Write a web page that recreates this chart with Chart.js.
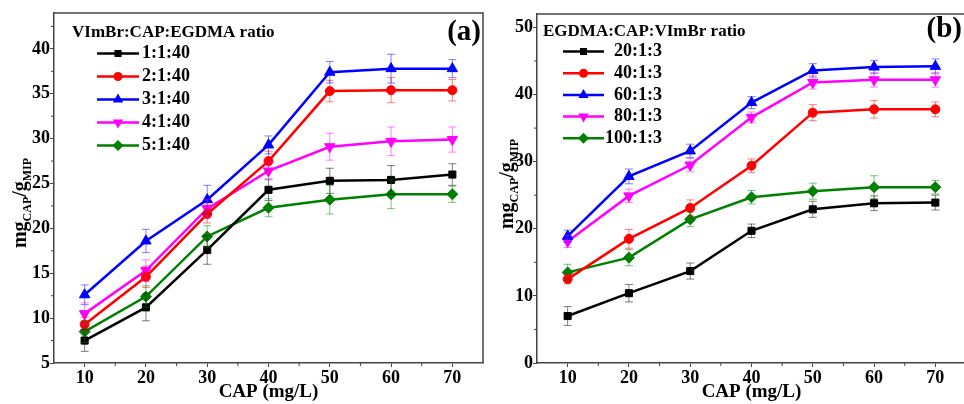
<!DOCTYPE html>
<html>
<head>
<meta charset="utf-8">
<script src="https://cdn.jsdelivr.net/npm/chart.js@4.4.0/dist/chart.umd.min.js"></script>
<style>
html, body {margin:0; padding:0; background:#fff; overflow:hidden; width:964px; height:404px;}
#wrapA {position:absolute; left:0; top:0;}
#wrapB {position:absolute; left:485px; top:0;}
</style>
</head>
<body>
<div id="wrapA"><canvas id="chartA" width="490" height="404"></canvas></div>
<div id="wrapB"><canvas id="chartB" width="490" height="404"></canvas></div>
<script>
// x values, CAP concentration in mg/L
var capConc = [10, 20, 30, 40, 50, 60, 70];
var xTicks = [10, 20, 30, 40, 50, 60, 70];

// panel (a): VImBr:CAP:EGDMA ratio
var yTicksA = [5, 10, 15, 20, 25, 30, 35, 40];
var labelsA = ['1:1:40', '2:1:40', '3:1:40', '4:1:40', '5:1:40'];
var uptakeA1 = [7.5, 11.2, 17.6, 24.3, 25.3, 25.4, 26.0];
var uptakeA2 = [9.3, 14.6, 21.6, 27.5, 35.3, 35.4, 35.4];
var uptakeA3 = [12.6, 18.6, 23.2, 29.3, 37.4, 37.8, 37.8];
var uptakeA4 = [10.5, 15.3, 22.2, 26.4, 29.1, 29.7, 29.9];
var uptakeA5 = [8.5, 12.4, 19.1, 22.3, 23.2, 23.8, 23.8];
var errA1 = [1.2, 1.5, 1.6, 1.2, 1.4, 1.6, 1.2];
var errA2 = [0.8, 1.2, 1.0, 1.1, 1.2, 1.4, 1.2];
var errA3 = [1.1, 1.3, 1.6, 1.0, 1.2, 1.6, 1.0];
var errA4 = [1.2, 1.2, 1.0, 1.0, 1.5, 1.6, 1.4];
var errA5 = [1.2, 1.2, 1.2, 1.0, 1.6, 1.6, 0.9];

// panel (b): EGDMA:CAP:VImBr ratio
var yTicksB = [0, 10, 20, 30, 40, 50];
var labelsB = ['20:1:3', '40:1:3', '60:1:3', '80:1:3', '100:1:3'];
var uptakeB1 = [7.0, 10.4, 13.7, 19.7, 22.9, 23.8, 23.9];
var uptakeB2 = [12.5, 18.5, 23.1, 29.4, 37.3, 37.8, 37.8];
var uptakeB3 = [18.9, 27.8, 31.6, 38.8, 43.6, 44.1, 44.2];
var uptakeB4 = [18.1, 24.9, 29.5, 36.6, 41.8, 42.2, 42.2];
var uptakeB5 = [13.5, 15.7, 21.4, 24.7, 25.6, 26.2, 26.2];
var errB1 = [1.4, 1.3, 1.2, 1.0, 1.2, 1.1, 1.1];
var errB2 = [0.7, 1.4, 1.2, 1.0, 1.2, 1.3, 1.1];
var errB3 = [0.9, 1.1, 1.0, 0.9, 1.0, 1.0, 1.1];
var errB4 = [0.9, 1.0, 1.0, 0.8, 1.0, 1.1, 1.1];
var errB5 = [1.2, 1.2, 1.1, 1.0, 1.2, 1.7, 1.0];

var serif = "'Liberation Serif', 'Times New Roman', serif";
var frameColor = '#444';

var seriesStyles = [
  {color: '#000000', pointStyle: 'rect', radius: 5, rotation: 0},
  {color: '#ff0000', pointStyle: 'circle', radius: 4.5, rotation: 0},
  {color: '#0000ff', pointStyle: 'triangle', radius: 6, rotation: 0},
  {color: '#ff00ff', pointStyle: 'triangle', radius: 6, rotation: 180},
  {color: '#008000', pointStyle: 'rectRot', radius: 5.5, rotation: 0}
];

function makeDatasets(labels, series, errors){
  return series.map(function(vals, i){
    var st = seriesStyles[i];
    return {
      label: labels[i],
      data: vals.map(function(v, j){ return {x: capConc[j], y: v}; }),
      errors: errors[i],
      borderColor: st.color,
      backgroundColor: st.color,
      borderWidth: 2.5,
      pointStyle: st.pointStyle,
      pointRadius: st.radius,
      pointRotation: st.rotation,
      pointBorderWidth: 1,
      tension: 0
    };
  });
}

function drawMarker(ctx, st, x, y){
  var r = st.radius;
  ctx.save();
  ctx.fillStyle = st.color;
  ctx.beginPath();
  if (st.pointStyle === 'rect') {
    var s = r * Math.SQRT1_2;
    ctx.rect(x - s, y - s, 2 * s, 2 * s);
  } else if (st.pointStyle === 'circle') {
    ctx.arc(x, y, r, 0, Math.PI * 2);
  } else if (st.pointStyle === 'triangle') {
    var d = st.rotation === 180 ? -1 : 1;
    ctx.moveTo(x, y - d * r);
    ctx.lineTo(x - r * 0.866, y + d * r * 0.5);
    ctx.lineTo(x + r * 0.866, y + d * r * 0.5);
    ctx.closePath();
  } else {
    ctx.moveTo(x, y - r); ctx.lineTo(x + r, y); ctx.lineTo(x, y + r); ctx.lineTo(x - r, y);
    ctx.closePath();
  }
  ctx.fill();
  ctx.restore();
}

// error bars, frame, minor ticks, legend box, y title with subscripts, panel letter
var decorPlugin = {
  id: 'decor',
  afterDatasetsDraw: function(chart){
    var ctx = chart.ctx, xs = chart.scales.x, ys = chart.scales.y;
    chart.data.datasets.forEach(function(ds){
      ctx.save();
      ctx.strokeStyle = ds.borderColor;
      ctx.globalAlpha = 0.5;
      ctx.lineWidth = 1;
      ds.data.forEach(function(p, i){
        var e = ds.errors[i];
        var x = xs.getPixelForValue(p.x);
        var y1 = ys.getPixelForValue(p.y - e), y2 = ys.getPixelForValue(p.y + e);
        ctx.beginPath();
        ctx.moveTo(x, y1); ctx.lineTo(x, y2);
        ctx.moveTo(x - 4, y1); ctx.lineTo(x + 4, y1);
        ctx.moveTo(x - 4, y2); ctx.lineTo(x + 4, y2);
        ctx.stroke();
      });
      ctx.restore();
    });
  },
  afterDraw: function(chart, args, opts){
    var ctx = chart.ctx, area = chart.chartArea;
    var xs = chart.scales.x, ys = chart.scales.y;
    ctx.save();
    // frame top and right
    ctx.strokeStyle = frameColor;
    ctx.lineWidth = 1.5;
    ctx.beginPath();
    ctx.moveTo(area.left, area.top); ctx.lineTo(area.right, area.top); ctx.lineTo(area.right, area.bottom);
    ctx.stroke();
    // minor ticks halfway between majors
    ctx.lineWidth = 1;
    ctx.beginPath();
    for (var i = 0; i < ys.ticks.length; i++) {
      var v = ys.ticks[i].value + opts.yStep / 2;
      if (v < ys.max) { var py = ys.getPixelForValue(v); ctx.moveTo(area.left - 3, py); ctx.lineTo(area.left, py); }
    }
    for (var j = 0; j < xs.ticks.length; j++) {
      var u = xs.ticks[j].value + 5;
      if (u < xs.max) { var px = xs.getPixelForValue(u); ctx.moveTo(px, area.bottom); ctx.lineTo(px, area.bottom + 3); }
    }
    ctx.stroke();

    // legend
    ctx.fillStyle = '#000';
    ctx.textBaseline = 'middle';
    ctx.font = 'bold 17px ' + serif;
    ctx.textAlign = 'left';
    ctx.fillText(opts.legendTitle, opts.titleX, opts.titleY);
    ctx.font = 'bold 18px ' + serif;
    chart.data.datasets.forEach(function(ds, k){
      var yy = opts.rowY + k * opts.rowGap;
      var st = seriesStyles[k];
      ctx.strokeStyle = st.color;
      ctx.lineWidth = 2.5;
      ctx.beginPath(); ctx.moveTo(opts.lineX0, yy); ctx.lineTo(opts.lineX1, yy); ctx.stroke();
      drawMarker(ctx, st, (opts.lineX0 + opts.lineX1) / 2, yy);
      ctx.fillStyle = '#000';
      ctx.textAlign = opts.textAlign;
      ctx.fillText(ds.label, opts.textX, yy);
    });

    // y title: mg_CAP / g_MIP
    var parts = [['mg', 20, 0], ['CAP', 12, 5], ['/g', 20, 0], ['MIP', 12, 5]];
    var total = 0;
    parts.forEach(function(p){ ctx.font = 'bold ' + p[1] + 'px ' + serif; total += ctx.measureText(p[0]).width; });
    ctx.translate(opts.yTitleX, opts.yTitleY);
    ctx.rotate(-Math.PI / 2);
    ctx.textAlign = 'left';
    ctx.textBaseline = 'alphabetic';
    var cx = -total / 2;
    parts.forEach(function(p){
      ctx.font = 'bold ' + p[1] + 'px ' + serif;
      ctx.fillText(p[0], cx, p[2]);
      cx += ctx.measureText(p[0]).width;
    });
    ctx.setTransform(1, 0, 0, 1, 0, 0);

    // panel letter
    ctx.font = 'bold 29px ' + serif;
    ctx.textAlign = 'right';
    ctx.textBaseline = 'middle';
    ctx.fillText(opts.panel, opts.panelX, opts.panelY);
    ctx.restore();
  }
};

function makeConfig(datasets, yMin, yMax, yTicks, axisLeft, padRight, padTop, decor){
  return {
    type: 'line',
    data: {datasets: datasets},
    plugins: [decorPlugin],
    options: {
      responsive: false,
      animation: false,
      layout: {padding: {left: 0, right: padRight, top: padTop, bottom: 0}},
      plugins: {legend: {display: false}, tooltip: {enabled: false}, decor: decor},
      scales: {
        x: {
          type: 'linear', min: 5, max: 75,
          afterFit: function(s){ s.height = 41; },
          afterBuildTicks: function(s){ s.ticks = xTicks.map(function(v){ return {value: v}; }); },
          ticks: {padding: 1, color: '#000', font: {family: serif, size: 18, weight: 'bold'}},
          grid: {drawOnChartArea: false, drawTicks: true, tickLength: 4, color: frameColor},
          border: {display: true, color: frameColor, width: 1.5},
          title: {display: true, text: 'CAP (mg/L)', color: '#000', padding: {top: 0, bottom: 1}, font: {family: serif, size: 19, weight: 'bold'}}
        },
        y: {
          type: 'linear', min: yMin, max: yMax,
          afterFit: function(s){ s.width = axisLeft; },
          afterBuildTicks: function(s){ s.ticks = yTicks.map(function(v){ return {value: v}; }); },
          ticks: {padding: 0, color: '#000', font: {family: serif, size: 18, weight: 'bold'}},
          grid: {drawOnChartArea: false, drawTicks: true, tickLength: 4, color: frameColor},
          border: {display: true, color: frameColor, width: 1.5}
        }
      }
    }
  };
}

window.onload = function(){
  var dsA = makeDatasets(labelsA, [uptakeA1, uptakeA2, uptakeA3, uptakeA4, uptakeA5], [errA1, errA2, errA3, errA4, errA5]);
  var dsB = makeDatasets(labelsB, [uptakeB1, uptakeB2, uptakeB3, uptakeB4, uptakeB5], [errB1, errB2, errB3, errB4, errB5]);

  new Chart(document.getElementById('chartA').getContext('2d'),
    makeConfig(dsA, 5, 44, yTicksA, 54, 6, 13, {
      yStep: 5, legendTitle: 'VImBr:CAP:EGDMA ratio', titleX: 72, titleY: 33,
      rowY: 53.5, rowGap: 23, lineX0: 97, lineX1: 139, textX: 142, textAlign: 'left',
      yTitleX: 26, yTitleY: 203, panel: '(a)', panelX: 481, panelY: 33
    }));

  new Chart(document.getElementById('chartB').getContext('2d'),
    makeConfig(dsB, 0, 52, yTicksB, 52, 9, 14, {
      yStep: 10, legendTitle: 'EGDMA:CAP:VImBr ratio', titleX: 58, titleY: 31.5,
      rowY: 51.5, rowGap: 21.7, lineX0: 78, lineX1: 119, textX: 177, textAlign: 'right',
      yTitleX: 28, yTitleY: 184, panel: '(b)', panelX: 477, panelY: 30
    }));
};
</script>
</body>
</html>
